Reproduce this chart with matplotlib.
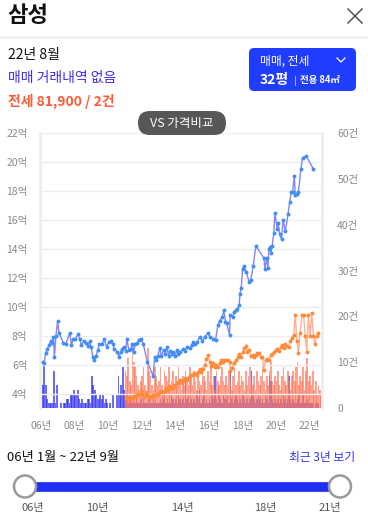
import matplotlib
matplotlib.use('Agg')
import matplotlib.pyplot as plt
from matplotlib.patches import FancyBboxPatch, Circle
import numpy as np

# ---------------- data ----------------
# 매매 실거래가 (억)
sale_t = [2006.10, 2006.19, 2006.29, 2006.39, 2006.49, 2006.59, 2006.69, 2006.75, 2006.81, 2006.90,
          2007.00, 2007.08, 2007.34, 2007.49, 2007.72, 2007.82, 2007.92, 2008.06, 2008.22, 2008.31,
          2008.41, 2008.55, 2008.71, 2008.81, 2008.90, 2009.00, 2009.10, 2009.19, 2009.29, 2009.39,
          2009.49, 2009.65, 2009.78, 2009.92, 2010.04, 2010.18, 2010.28, 2010.37, 2010.51, 2010.66,
          2010.76, 2010.86, 2010.96, 2011.06, 2011.12, 2011.25, 2011.35, 2011.45, 2011.55, 2011.61,
          2011.75, 2011.84, 2011.94, 2012.10, 2012.34, 2012.69, 2012.78, 2012.88, 2012.98, 2013.08,
          2013.18, 2013.31, 2013.41, 2013.51, 2013.61, 2013.71, 2013.81, 2013.90, 2014.00, 2014.10,
          2014.19, 2014.29, 2014.45, 2014.59, 2014.72, 2014.88, 2014.98, 2015.08, 2015.18, 2015.31,
          2015.47, 2015.63, 2015.76, 2015.96, 2016.10, 2016.25, 2016.41, 2016.55, 2016.65, 2016.81,
          2016.90, 2017.00, 2017.08, 2017.24, 2017.28, 2017.44, 2017.52, 2017.63, 2017.71, 2017.82,
          2017.86, 2017.94, 2018.02, 2018.10, 2018.24, 2018.41, 2018.51, 2018.65, 2018.81, 2019.29,
          2019.35, 2019.45, 2019.53, 2019.59, 2019.65, 2019.71, 2019.78, 2019.88, 2019.94, 2020.08,
          2020.14, 2020.24, 2020.34, 2020.43, 2020.57, 2020.72, 2020.82, 2020.92, 2021.00, 2021.10,
          2021.16, 2021.24, 2021.35, 2021.49, 2021.59, 2021.82, 2022.24]
sale_v = [6.2, 6.1, 6.8, 7.1, 7.35, 7.65, 7.5, 7.9, 6.55, 8.0,
          9.0, 8.2, 7.5, 7.4, 8.2, 7.35, 7.75, 7.8, 8.1, 7.75,
          7.35, 7.6, 7.5, 7.25, 7.6, 7.2, 6.5, 6.35, 6.6, 7.0,
          7.4, 7.45, 7.75, 7.2, 7.55, 7.65, 7.45, 7.1, 6.9, 6.55,
          6.9, 7.1, 7.2, 6.95, 7.75, 7.0, 7.1, 7.4, 6.9, 7.45,
          7.5, 7.7, 7.8, 7.45, 6.2, 5.2, 6.5, 6.3, 6.6, 7.15,
          6.6, 7.0, 6.75, 7.2, 6.6, 6.95, 6.75, 6.85, 6.6, 7.0,
          6.75, 6.85, 7.05, 6.96, 7.24, 7.12, 7.35, 7.58, 7.4, 7.54,
          7.93, 7.65, 7.93, 8.16, 7.88, 7.8, 7.7, 8.74, 9.03, 9.3,
          9.77, 8.96, 8.85, 8.04, 9.45, 9.3, 9.65, 9.8, 9.85, 10.1,
          10.9, 11.3, 12.6, 12.8, 12.4, 11.7, 11.85, 12.8, 14.2, 13.35,
          12.6, 13.35, 12.7, 14.0, 14.1, 13.7, 14.2, 15.1, 16.5, 15.4,
          15.75, 15.0, 14.65, 16.0, 15.2, 16.4, 17.25, 17.95, 17.95, 19.0,
          17.7, 17.8, 17.95, 19.5, 20.3, 20.4, 19.5]

# 전세 가격 (억)
rent_t = [2011.06, 2011.18, 2011.29, 2011.41, 2011.55, 2011.65, 2011.75, 2011.84, 2011.94, 2012.04,
          2012.14, 2012.24, 2012.34, 2012.43, 2012.53, 2012.63, 2012.71, 2012.82, 2012.92, 2013.00,
          2013.08, 2013.18, 2013.28, 2013.37, 2013.47, 2013.57, 2013.66, 2013.76, 2013.86, 2013.96,
          2014.10, 2014.19, 2014.29, 2014.39, 2014.49, 2014.59, 2014.72, 2014.82, 2014.92, 2015.02,
          2015.12, 2015.22, 2015.29, 2015.37, 2015.47, 2015.57, 2015.66, 2015.76, 2015.86, 2015.96,
          2016.06, 2016.16, 2016.25, 2016.35, 2016.45, 2016.55, 2016.65, 2016.75, 2016.84, 2016.94,
          2017.04, 2017.14, 2017.24, 2017.29, 2017.39, 2017.49, 2017.63, 2017.72, 2017.82, 2017.92,
          2018.02, 2018.12, 2018.22, 2018.31, 2018.41, 2018.51, 2018.61, 2018.71, 2018.81, 2018.90,
          2019.00, 2019.10, 2019.19, 2019.29, 2019.39, 2019.49, 2019.59, 2019.69, 2019.78, 2019.88,
          2019.98, 2020.08, 2020.18, 2020.28, 2020.37, 2020.47, 2020.57, 2020.66, 2020.76, 2020.86,
          2020.96, 2021.06, 2021.16, 2021.25, 2021.35, 2021.45, 2021.55, 2021.65, 2021.75, 2021.84,
          2021.94, 2022.04, 2022.14, 2022.24, 2022.34, 2022.43, 2022.53]
rent_v = [3.7, 3.6, 3.75, 3.65, 3.83, 3.75, 3.95, 4.0, 4.17, 4.0,
          3.75, 4.05, 3.9, 3.74, 3.8, 3.74, 3.9, 3.9, 4.0, 3.95,
          4.13, 4.2, 4.1, 4.2, 4.4, 4.25, 4.5, 4.4, 4.35, 4.6,
          4.7, 4.82, 4.95, 4.7, 4.85, 5.05, 4.95, 5.15, 5.3, 5.25,
          5.4, 5.35, 5.3, 5.5, 5.67, 5.5, 5.7, 5.95, 6.37, 6.66,
          6.2, 5.9, 6.1, 5.8, 5.95, 5.85, 6.1, 6.32, 6.2, 6.32,
          6.3, 6.3, 6.2, 5.56, 5.75, 6.1, 6.3, 6.5, 6.7, 6.55,
          6.85, 7.12, 7.25, 6.85, 7.0, 6.6, 6.65, 6.55, 6.65, 6.78,
          6.8, 6.55, 6.55, 5.63, 6.3, 6.4, 6.3, 6.65, 6.75, 6.85,
          7.0, 7.05, 6.95, 7.2, 7.35, 7.15, 7.45, 7.25, 7.2, 7.6,
          7.85, 8.04, 9.43, 7.65, 6.82, 8.2, 9.43, 9.43, 7.95, 6.89,
          9.43, 7.95, 9.54, 7.95, 7.4, 8.0, 8.16]

# 월별 거래 건수 (매매), 2006-01 ~ 2022-09
sale_cnt = [0, 5, 10, 5, 2, 1, 1, 1, 1, 8, 1, 5,      # 2006
            0, 0, 1, 0, 1, 1, 2, 2, 1, 3, 3, 4,       # 2007
            3, 3, 4, 2, 1, 2, 1, 1, 1, 2, 2, 1,       # 2008
            7, 5, 4, 3, 2, 2, 3, 2, 3, 1, 2, 1,       # 2009
            0, 1, 0, 3, 0, 0, 3, 7, 3, 5, 9, 4,       # 2010
            2, 3, 1, 2, 1, 2, 1, 1, 2, 1, 1, 2,       # 2011
            1, 2, 1, 1, 1, 2, 1, 1, 2, 1, 1, 1,       # 2012
            1, 2, 1, 2, 3, 1, 2, 1, 1, 3, 2, 1,       # 2013
            2, 1, 3, 2, 1, 2, 1, 6, 2, 3, 1, 2,       # 2014
            1, 2, 1, 3, 2, 4, 1, 2, 3, 1, 2, 1,       # 2015
            2, 1, 3, 2, 7, 2, 1, 3, 2, 1, 3, 2,       # 2016
            2, 3, 1, 9, 2, 1, 2, 3, 2, 1, 2, 1,       # 2017
            3, 2, 1, 2, 1, 2, 8, 3, 2, 1, 2, 3,       # 2018
            2, 1, 2, 1, 3, 2, 1, 7, 6, 2, 1, 2,       # 2019
            1, 2, 1, 2, 1, 3, 2, 1, 2, 7, 2, 1,       # 2020
            2, 1, 1, 2, 3, 1, 1, 3, 1, 1, 2, 1,       # 2021
            1, 1, 1, 0, 1, 1, 1, 0, 0]                # 2022
# 월별 거래 건수 (전세), 2011-01 ~ 2022-09
rent_cnt = [8, 7, 11, 6, 5, 13, 10, 9, 7, 5, 4, 6,    # 2011
            7, 9, 5, 4, 13, 8, 7, 5, 4, 9, 7, 5,      # 2012
            6, 9, 5, 4, 8, 7, 6, 9, 5, 6, 8, 4,       # 2013
            7, 5, 9, 6, 4, 7, 5, 8, 6, 5, 9, 7,       # 2014
            5, 8, 6, 4, 7, 6, 5, 9, 7, 6, 4, 8,       # 2015
            6, 9, 5, 7, 4, 8, 6, 5, 7, 9, 6, 5,       # 2016
            7, 5, 8, 6, 4, 7, 9, 5, 6, 8, 5, 7,       # 2017
            6, 4, 8, 5, 7, 9, 6, 5, 7, 4, 8, 6,       # 2018
            5, 7, 9, 6, 4, 7, 5, 8, 10, 6, 5, 7,      # 2019
            6, 8, 5, 4, 7, 9, 6, 5, 8, 6, 4, 7,       # 2020
            8, 6, 9, 10, 5, 7, 6, 9, 4, 8, 11, 6,     # 2021
            7, 5, 8, 4, 6, 3, 5, 4, 3]                # 2022

year_ticks = [2006, 2008, 2010, 2012, 2014, 2016, 2018, 2020, 2022]
price_ticks = [4, 6, 8, 10, 12, 14, 16, 18, 20, 22]
count_ticks = [0, 10, 20, 30, 40, 50, 60]
slider_labels = ["06년", "10년", "14년", "18년", "21년"]

# ---------------- figure ----------------
W, H = 368, 524
plt.rcParams['font.family'] = ['Noto Sans CJK KR', 'DejaVu Sans']
fig = plt.figure(figsize=(W / 100, H / 100), dpi=100)
fig.patch.set_facecolor('white')

# main chart
ax = fig.add_axes([40 / W, 1 - 408 / H, 282 / W, 275 / H])
ax2 = ax.twinx()
ax.set_zorder(ax2.get_zorder() + 1)
ax.patch.set_visible(False)

sale_months = 2006 + np.arange(len(sale_cnt)) / 12 + 1 / 24
rent_months = 2011 + np.arange(len(rent_cnt)) / 12 + 1 / 24
ax2.bar(sale_months, sale_cnt, width=0.1, color='#3535f0', alpha=0.72, linewidth=0)
ax2.bar(rent_months, rent_cnt, width=0.1, color='#ff7558', alpha=0.68, linewidth=0)

ax.plot(sale_t, sale_v, color='#8585f5', lw=1.0, zorder=3)
ax.plot(sale_t, sale_v, 'o', color='#3f8ff5', ms=2.8, mew=0, zorder=4)
ax.plot(rent_t, rent_v, color='#ffb090', lw=1.0, zorder=3)
ax.plot(rent_t, rent_v, 'o', color='#ff8a3a', ms=2.8, mew=0, zorder=4)

ax.set_xlim(2005.95, 2022.75)
ax.set_ylim(3, 22)
ax2.set_ylim(0, 60)

ax.set_xticks(year_ticks)
ax.set_xticklabels([f"{y % 100:02d}년" for y in year_ticks])
ax.set_yticks(price_ticks)
ax.set_yticklabels([f"{p}억" for p in price_ticks])
ax2.set_yticks(count_ticks)
ax2.set_yticklabels(["0" if c == 0 else f"{c}건" for c in count_ticks])

ax.tick_params(axis='both', length=0, colors='#8a8a8a', labelsize=7.5)
ax.tick_params(axis='y', pad=9)
ax.tick_params(axis='x', pad=9)
ax2.tick_params(axis='y', length=0, colors='#8a8a8a', labelsize=7.5, pad=11)

ax.yaxis.grid(True, color='#ededed', lw=1)
for s in ['top', 'bottom']:
    ax.spines[s].set_visible(False)
for s in ['left', 'right']:
    ax.spines[s].set_color('#eeeeee')
    ax.spines[s].set_linewidth(2)
for s in ax2.spines.values():
    s.set_visible(False)

# ---------------- UI overlay (pixel coordinates) ----------------
ui = fig.add_axes([0, 0, 1, 1])
ui.set_xlim(0, W)
ui.set_ylim(H, 0)
ui.axis('off')
ui.patch.set_visible(False)
ui.set_zorder(10)

ui.text(7, 16, "삼성", fontsize=16, fontweight='bold', color='#111111', va='center', ha='left')
ui.plot([348, 362], [9, 23], color='#444444', lw=1)
ui.plot([348, 362], [23, 9], color='#444444', lw=1)
ui.plot([0, W], [37, 37], color='#e6e6e6', lw=1)

ui.text(8, 55, "22년 8월", fontsize=10, color='#111111', va='center', ha='left')
ui.text(8, 78, "매매 거래내역 없음", fontsize=10, color='#3f2cf0', va='center', ha='left',
        fontweight='medium')
ui.text(8, 101, "전세 81,900 / 2건", fontsize=10, color='#ff5a38', va='center', ha='left',
        fontweight='bold')

box = FancyBboxPatch((249, 48), 107, 43, boxstyle="round,pad=0,rounding_size=5",
                     facecolor='#1f3cff', edgecolor='none')
ui.add_patch(box)
ui.text(260, 61, "매매, 전세", fontsize=8.5, color='white', va='center', ha='left')
ui.plot([337, 341, 345], [58, 62, 58], color='white', lw=0.9)
ui.text(260, 80, "32평", fontsize=10, color='white', va='center', ha='left', fontweight='bold')
ui.plot([295, 295], [76, 85], color='#9aa8ff', lw=0.8)
ui.text(300, 80.5, "전용 84㎡", fontsize=6.8, color='white', va='center', ha='left',
        fontweight='bold')

pill = FancyBboxPatch((138, 111), 88, 24, boxstyle="round,pad=0,rounding_size=12",
                      facecolor='#575757', edgecolor='none')
ui.add_patch(pill)
ui.text(182, 123, "VS 가격비교", fontsize=9, color='white', va='center', ha='center')

ui.text(7, 458, "06년 1월 ~ 22년 9월", fontsize=9.5, color='#111111', va='center', ha='left')
ui.text(355, 458, "최근 3년 보기", fontsize=8.5, color='#3333ee', va='center', ha='right')

ui.plot([25, 340], [486.5, 486.5], color='#1f2ff5', lw=7, solid_capstyle='butt', zorder=1)
for cx in (25, 340):
    ui.add_patch(Circle((cx, 486.5), 11, facecolor='white', edgecolor='#9a9a9a', lw=1.8, zorder=2))
for lab, lx in zip(slider_labels, [33, 97, 182, 265, 330]):
    ui.text(lx, 508, lab, fontsize=8, color='#555555', va='center', ha='center')

fig.savefig('out.png', dpi=100)
